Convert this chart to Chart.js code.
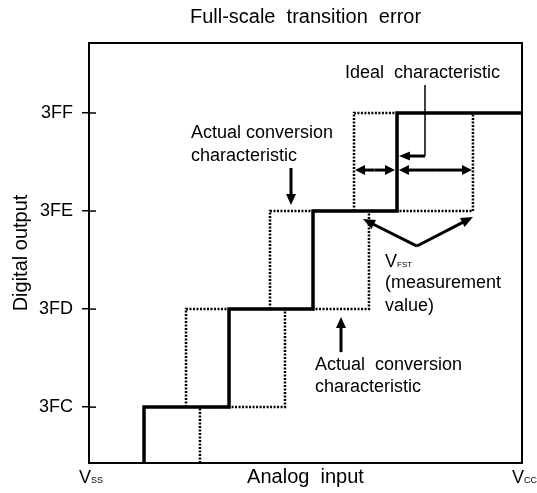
<!DOCTYPE html>
<html>
<head>
<meta charset="utf-8">
<title>Full-scale transition error</title>
<script src="https://cdn.jsdelivr.net/npm/chart.js@4.4.1/dist/chart.umd.min.js"></script>
<style>
  html, body { margin: 0; padding: 0; background: #fff; }
  canvas { display: block; }
</style>
</head>
<body>
<canvas id="chart" width="537" height="493"></canvas>
<script>
// y: digital output codes, x: analog input in LSB from Vss
const codes = [0x3FC, 0x3FD, 0x3FE, 0x3FF];
const codeLabels = ['3FC', '3FD', '3FE', '3FF'];
const inputRange = [0, 5.155];
const outputRange = [1019.43, 1023.714];

// stepped series, each point = (input where the step happens, code after it)
const idealX = [0.655, 1.667, 2.667, 3.667, 5.155];
const idealY = [1019.43, 0x3FC, 0x3FD, 0x3FE, 0x3FF];
const earlyX = [1.155, 2.155, 3.155, 3.667];
const earlyY = [0x3FC, 0x3FD, 0x3FE, 0x3FF];
const lateX = [1.321, 2.333, 3.333, 4.571, 4.571];
const lateY = [1019.43, 0x3FC, 0x3FD, 0x3FE, 0x3FF];

const FONT = '"Liberation Sans", Arial, Helvetica, sans-serif';
Chart.defaults.font.family = FONT;
Chart.defaults.color = '#000';

function pts(xs, ys) {
  return xs.map((x, i) => ({ x: x, y: ys[i] }));
}

function arrow(ctx, x1, y1, x2, y2, w, hl, hw) {
  const ang = Math.atan2(y2 - y1, x2 - x1);
  const c = Math.cos(ang), s = Math.sin(ang);
  const bx = x2 - hl * c, by = y2 - hl * s;
  ctx.lineWidth = w;
  ctx.beginPath();
  ctx.moveTo(x1, y1);
  ctx.lineTo(bx + c, by + s);
  ctx.stroke();
  ctx.beginPath();
  ctx.moveTo(x2, y2);
  ctx.lineTo(bx + hw * s, by - hw * c);
  ctx.lineTo(bx - hw * s, by + hw * c);
  ctx.closePath();
  ctx.fill();
}

function sub(ctx, x, yMid, main, small, size, smallSize) {
  ctx.textAlign = 'left';
  ctx.textBaseline = 'alphabetic';
  const base = yMid + size * 0.36;
  ctx.font = size + 'px ' + FONT;
  ctx.fillText(main, x, base);
  const w = ctx.measureText(main).width;
  ctx.font = smallSize + 'px ' + FONT;
  ctx.fillText(small, x + w, base);
}

// box, inner tick halves and the annotations
const notes = {
  id: 'notes',
  afterDatasetsDraw(chart) {
    const { ctx, chartArea: a } = chart;
    const xs = chart.scales.x, ys = chart.scales.y;
    const X = v => xs.getPixelForValue(v);
    const Y = v => ys.getPixelForValue(v);
    ctx.save();
    ctx.strokeStyle = '#000';
    ctx.fillStyle = '#000';
    ctx.lineWidth = 2;
    ctx.strokeRect(a.left, a.top, a.right - a.left, a.bottom - a.top);

    ctx.lineWidth = 1.5;
    codes.forEach(c => {
      ctx.beginPath();
      ctx.moveTo(a.left, Y(c));
      ctx.lineTo(a.left + 7, Y(c));
      ctx.stroke();
    });

    ctx.font = '18px ' + FONT;
    ctx.textAlign = 'left';
    ctx.textBaseline = 'middle';
    ctx.fillText('Ideal  characteristic', X(3.048), Y(1023.408));
    ctx.fillText('Actual conversion', X(1.214), Y(1022.796));
    ctx.fillText('characteristic', X(1.214), Y(1022.561));
    ctx.fillText('(measurement', X(3.524), Y(1021.265));
    ctx.fillText('value)', X(3.524), Y(1021.031));
    ctx.fillText('Actual  conversion', X(2.69), Y(1020.429));
    ctx.fillText('characteristic', X(2.69), Y(1020.204));
    sub(ctx, X(3.524), Y(1021.5), 'V', 'FST', 18, 8);

    // leader to the ideal line
    ctx.lineWidth = 1.5;
    ctx.beginPath();
    ctx.moveTo(X(4.0), Y(1023.286));
    ctx.lineTo(X(4.0), Y(1022.561));
    ctx.stroke();
    arrow(ctx, X(4.0), Y(1022.561), X(3.69), Y(1022.561), 3, 11, 4.5);

    // pointers to the actual characteristics
    arrow(ctx, X(2.405), Y(1022.439), X(2.405), Y(1022.061), 3, 11, 5);
    arrow(ctx, X(3.0), Y(1020.561), X(3.0), Y(1020.918), 3, 11, 5);

    // measured widths
    const ya = Y(1022.418);
    arrow(ctx, X(3.4), ya, X(3.167), ya, 3, 10, 5);
    arrow(ctx, X(3.4), ya, X(3.643), ya, 3, 10, 5);
    arrow(ctx, X(4.12), ya, X(3.69), ya, 3, 10, 5);
    arrow(ctx, X(4.12), ya, X(4.56), ya, 3, 10, 5);

    // V_FST pointers
    arrow(ctx, X(3.905), Y(1021.643), X(3.262), Y(1021.918), 3, 12, 5);
    arrow(ctx, X(3.905), Y(1021.643), X(4.571), Y(1021.939), 3, 12, 5);

    // Vss / Vcc at the ends of the x axis
    const yb = a.bottom + 14;
    sub(ctx, X(inputRange[0]) - 10, yb, 'V', 'SS', 18, 9);
    sub(ctx, X(inputRange[1]) - 10, yb, 'V', 'CC', 18, 9);
    ctx.restore();
  }
};

new Chart(document.getElementById('chart'), {
  type: 'line',
  data: {
    datasets: [
      {
        label: 'Ideal characteristic',
        data: pts(idealX, idealY),
        stepped: 'after',
        borderColor: '#000',
        borderWidth: 3.5,
        borderJoinStyle: 'miter',
        pointRadius: 0,
        fill: false
      },
      {
        label: 'Actual conversion characteristic (early)',
        data: pts(earlyX, earlyY),
        stepped: 'after',
        borderColor: '#000',
        borderWidth: 2.5,
        borderDash: [2, 1.5],
        pointRadius: 0,
        fill: false
      },
      {
        label: 'Actual conversion characteristic (late)',
        data: pts(lateX, lateY),
        stepped: 'after',
        borderColor: '#000',
        borderWidth: 2.5,
        borderDash: [2, 1.5],
        pointRadius: 0,
        fill: false
      }
    ]
  },
  options: {
    responsive: false,
    animation: false,
    devicePixelRatio: 1,
    layout: { padding: { left: 0, top: 0, right: 15, bottom: 0 } },
    plugins: {
      legend: { display: false },
      tooltip: { enabled: false },
      title: {
        display: true,
        fullSize: false,
        text: 'Full-scale  transition  error',
        font: { size: 20, weight: 'normal' },
        color: '#000',
        padding: { top: 5, bottom: 14 }
      }
    },
    scales: {
      x: {
        type: 'linear',
        min: inputRange[0],
        max: inputRange[1],
        grid: { display: false },
        border: { display: false },
        ticks: { display: false },
        title: {
          display: true,
          text: 'Analog  input',
          font: { size: 20 },
          color: '#000',
          padding: { top: 0, bottom: 4 }
        },
        afterFit: s => { s.height = 30; }
      },
      y: {
        type: 'linear',
        min: outputRange[0],
        max: outputRange[1],
        afterBuildTicks: s => { s.ticks = codes.map(v => ({ value: v })); },
        ticks: {
          callback: (v, i) => codeLabels[i],
          font: { size: 18 },
          color: '#000',
          padding: 9
        },
        grid: { drawOnChartArea: false, color: '#000', lineWidth: 1.5, tickLength: 7 },
        border: { display: false },
        title: {
          display: true,
          text: 'Digital output',
          font: { size: 20 },
          color: '#000',
          padding: { top: 9, bottom: 0 }
        },
        afterFit: s => { s.width = 89; }
      }
    }
  },
  plugins: [notes]
});
</script>
</body>
</html>
